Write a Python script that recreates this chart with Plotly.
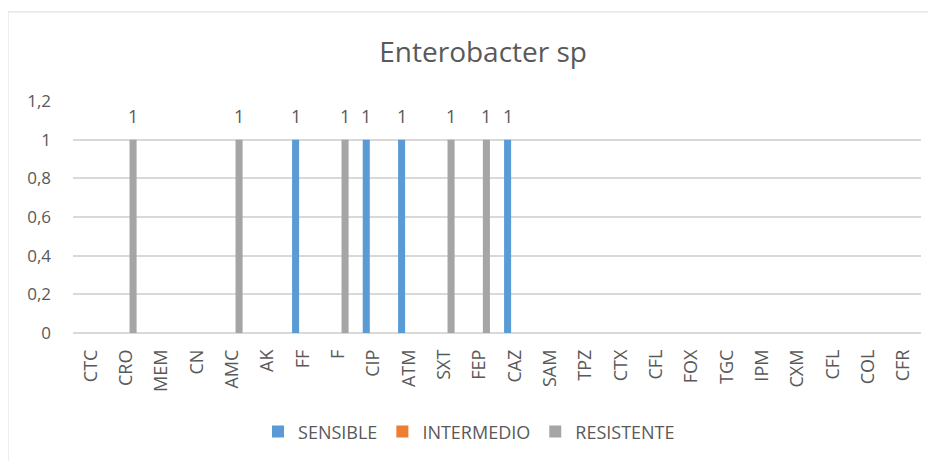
import plotly.graph_objects as go

categories = ["CTC", "CRO", "MEM", "CN", "AMC", "AK", "FF", "F", "CIP", "ATM", "SXT", "FEP",
              "CAZ", "SAM", "TPZ", "CTX", "CFL", "FOX", "TGC", "IPM", "CXM", "CFL", "COL", "CFR"]
sensible = [None, None, None, None, None, None, 1, None, 1, 1, None, None,
            1, None, None, None, None, None, None, None, None, None, None, None]
intermedio = [None] * 24
resistente = [None, 1, None, None, 1, None, None, 1, None, None, 1, 1,
              None, None, None, None, None, None, None, None, None, None, None, None]
y_ticks = [0, 0.2, 0.4, 0.6, 0.8, 1.0, 1.2]
y_ticklabels = ["0", "0,2", "0,4", "0,6", "0,8", "1", "1,2"]

series = [("SENSIBLE", sensible, "#5B9BD5"),
          ("INTERMEDIO", intermedio, "#ED7D31"),
          ("RESISTENTE", resistente, "#A5A5A5")]

FONT = "Open Sans, Noto Sans, sans-serif"
TXT = "#595959"

x_idx = list(range(len(categories)))
fig = go.Figure()
bar_w = 0.2
annotations = []
for k, (name, vals, col) in enumerate(series):
    fig.add_trace(go.Bar(x=x_idx, y=vals, name=name, marker_color=col,
                         marker_line_width=0))
    off = (k - 1) * bar_w
    for i, v in zip(x_idx, vals):
        if v is not None:
            annotations.append(dict(x=i + off, y=v, xref="x", yref="y", text=f"{v:g}",
                                    showarrow=False, yshift=24, yanchor="middle",
                                    font=dict(family=FONT, size=18, color=TXT)))

# page body has an 8px margin: figure is sized/offset to compensate
fig.update_layout(
    width=928, height=453,
    margin=dict(l=65, r=15, t=93, b=127),
    paper_bgcolor="white", plot_bgcolor="white",
    barmode="group", bargap=0.4, bargroupgap=0,
    title=dict(text="Enterobacter sp", x=0.512, xanchor="center", y=0.903, yanchor="middle",
               font=dict(family=FONT, size=28, color=TXT)),
    font=dict(family=FONT, color=TXT, size=18),
    legend=dict(orientation="h", x=0.467, xanchor="center", y=-0.42, yanchor="middle",
                font=dict(family=FONT, size=18, color=TXT),
                traceorder="normal"),
    annotations=annotations,
    shapes=[dict(type="rect", xref="paper", yref="paper", x0=-0.0767, x1=1.2,
                 y0=-1.0, y1=1.384, line=dict(color="#D9D9D9", width=1),
                 fillcolor="rgba(0,0,0,0)", layer="below")],
    xaxis=dict(tickmode="array", tickvals=x_idx, ticktext=categories,
               range=[-0.5, len(categories) - 0.5], tickangle=-90,
               showgrid=False, showline=False, zeroline=False,
               ticklabelstandoff=12,
               tickfont=dict(family=FONT, size=18, color=TXT)),
    yaxis=dict(range=[0, 1.2], tickmode="array", tickvals=y_ticks, ticktext=y_ticklabels,
               showgrid=True, gridcolor="#D9D9D9", gridwidth=1.5,
               zeroline=True, zerolinecolor="#D9D9D9", zerolinewidth=1.5,
               showline=False, ticklabelstandoff=21,
               tickfont=dict(family=FONT, size=17, color=TXT)),
)

fig.write_html("out.html")
